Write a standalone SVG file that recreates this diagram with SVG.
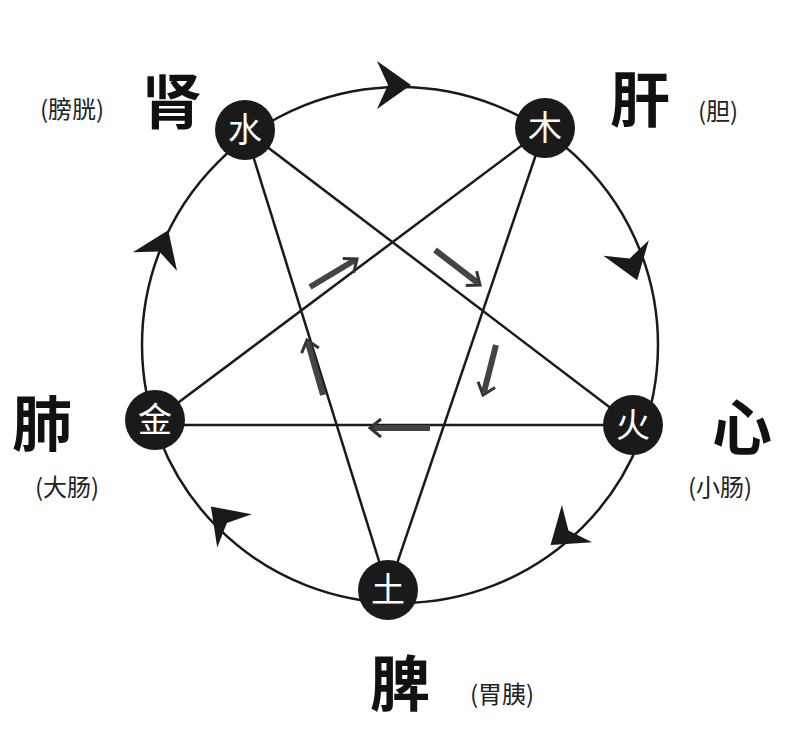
<svg xmlns="http://www.w3.org/2000/svg" width="800" height="738" viewBox="0 0 800 738">
<style>
.n{fill:#1a1a1a}
.nt{fill:#fff;font-family:"Noto Sans CJK SC",sans-serif;font-size:34px;text-anchor:middle}
.big{fill:#111;font-family:"Noto Sans CJK SC",sans-serif;font-size:60px;font-weight:bold;text-anchor:middle}
.sm{fill:#222;font-family:"Noto Sans CJK SC",sans-serif;font-size:24px;text-anchor:middle}
.l{stroke:#1a1a1a;stroke-width:2.5;fill:none}
.t{stroke:#444;stroke-width:6}
.ch{fill:#1a1a1a}
.sa{fill:none;stroke:#333;stroke-width:3}
</style>
<defs>
<path id="chev" d="M-18,-24 L16,0 L-18,24 L-7,0 Z"/>
<path id="sar" d="M-11,-9 L0,0 L-11,9"/>
</defs>
<g id="connectors">
<circle class="l" cx="400" cy="345" r="258" stroke-width="5"/>
<line class="l" x1="245" y1="130" x2="633" y2="425"/>
<line class="l" x1="633" y1="425" x2="155" y2="425"/>
<line class="l" x1="155" y1="420" x2="545" y2="128"/>
<line class="l" x1="545" y1="128" x2="388" y2="590"/>
<line class="l" x1="388" y1="590" x2="245" y2="130"/>
<line class="t" x1="435" y1="250" x2="478" y2="283"/>
<use href="#sar" class="sa" transform="translate(480,285) rotate(37)"/>
<line class="t" x1="430" y1="428" x2="372" y2="428"/>
<use href="#sar" class="sa" transform="translate(370,428) rotate(180)"/>
<line class="t" x1="310" y1="287" x2="355" y2="260"/>
<use href="#sar" class="sa" transform="translate(357,259) rotate(-37)"/>
<line class="t" x1="496" y1="345" x2="484" y2="392"/>
<use href="#sar" class="sa" transform="translate(483,395) rotate(109)"/>
<line class="t" x1="323" y1="395" x2="308" y2="343"/>
<use href="#sar" class="sa" transform="translate(307,340) rotate(-107)"/>
<use href="#chev" class="ch" transform="translate(395,85) rotate(0)"/>
<use href="#chev" class="ch" transform="translate(632,265) rotate(71)"/>
<use href="#chev" class="ch" transform="translate(563,535) rotate(141)"/>
<use href="#chev" class="ch" transform="translate(222,518) rotate(226)"/>
<use href="#chev" class="ch" transform="translate(162,245) rotate(293)"/>
</g>
<g id="water"><circle class="n" cx="245" cy="130" r="30"/><text class="nt" x="245" y="142">水</text>
<text class="big" x="172" y="124">肾</text><text class="sm" x="72" y="118">(膀胱)</text></g>
<g id="wood"><circle class="n" cx="545" cy="128" r="30"/><text class="nt" x="545" y="140">木</text>
<text class="big" x="640" y="122">肝</text><text class="sm" x="718" y="120">(胆)</text></g>
<g id="fire"><circle class="n" cx="633" cy="425" r="30"/><text class="nt" x="633" y="437">火</text>
<text class="big" x="742" y="450">心</text><text class="sm" x="720" y="496">(小肠)</text></g>
<g id="earth"><circle class="n" cx="388" cy="590" r="30"/><text class="nt" x="388" y="602">土</text>
<text class="big" x="400" y="706">脾</text><text class="sm" x="502" y="703">(胃胰)</text></g>
<g id="metal"><circle class="n" cx="155" cy="420" r="30"/><text class="nt" x="155" y="432">金</text>
<text class="big" x="42" y="446">肺</text><text class="sm" x="67" y="496">(大肠)</text></g>
</svg>
